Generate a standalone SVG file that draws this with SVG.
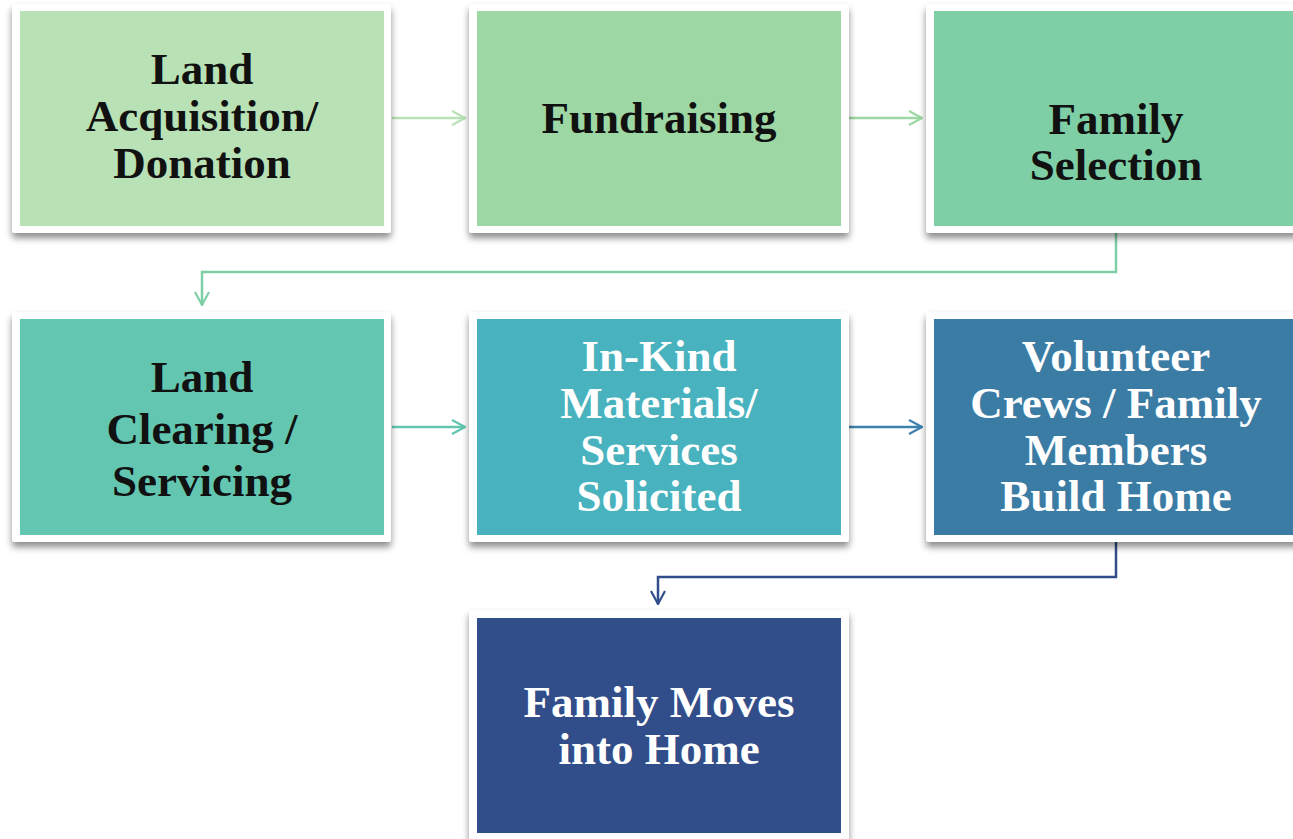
<svg xmlns="http://www.w3.org/2000/svg" width="1293" height="839" viewBox="0 0 1293 839">
<defs>
<filter id="sh" x="-10%" y="-10%" width="120%" height="125%">
<feDropShadow dx="0" dy="5" stdDeviation="3.5" flood-color="#000" flood-opacity="0.45"/>
</filter>
<marker id="a1" viewBox="0 0 16 16" refX="15" refY="8" markerWidth="16" markerHeight="16" markerUnits="userSpaceOnUse" orient="auto"><path d="M2,1 L15,8 L2,15" fill="none" stroke="#b8e2b5" stroke-width="2.2"/></marker>
<marker id="a2" viewBox="0 0 16 16" refX="15" refY="8" markerWidth="16" markerHeight="16" markerUnits="userSpaceOnUse" orient="auto"><path d="M2,1 L15,8 L2,15" fill="none" stroke="#9dd8a4" stroke-width="2.2"/></marker>
<marker id="a3" viewBox="0 0 16 16" refX="15" refY="8" markerWidth="16" markerHeight="16" markerUnits="userSpaceOnUse" orient="auto"><path d="M2,1 L15,8 L2,15" fill="none" stroke="#7ecfa6" stroke-width="2.2"/></marker>
<marker id="a4" viewBox="0 0 16 16" refX="15" refY="8" markerWidth="16" markerHeight="16" markerUnits="userSpaceOnUse" orient="auto"><path d="M2,1 L15,8 L2,15" fill="none" stroke="#62c6b0" stroke-width="2.2"/></marker>
<marker id="a5" viewBox="0 0 16 16" refX="15" refY="8" markerWidth="16" markerHeight="16" markerUnits="userSpaceOnUse" orient="auto"><path d="M2,1 L15,8 L2,15" fill="none" stroke="#3d82ad" stroke-width="2.2"/></marker>
<marker id="a6" viewBox="0 0 16 16" refX="15" refY="8" markerWidth="16" markerHeight="16" markerUnits="userSpaceOnUse" orient="auto"><path d="M2,1 L15,8 L2,15" fill="none" stroke="#314e8a" stroke-width="2.2"/></marker>
</defs>
<style>
.frame{fill:#ffffff;filter:url(#sh)}
.t{font-family:"Liberation Serif","Times New Roman",serif;font-weight:bold;font-size:45px;text-anchor:middle}
.dk{fill:#111111}
.lt{fill:#ffffff}
.c{fill:none;stroke-width:2.5}
</style>
<rect width="1293" height="839" fill="#ffffff"/>
<g id="connectors">
<path class="c" d="M392,118 H465" stroke="#b8e2b5" marker-end="url(#a1)"/>
<path class="c" d="M849,118 H922" stroke="#9dd8a4" marker-end="url(#a2)"/>
<path class="c" d="M1116,233 V272 H202 V305" stroke="#7ecfa6" marker-end="url(#a3)"/>
<path class="c" d="M392,427 H465" stroke="#62c6b0" marker-end="url(#a4)"/>
<path class="c" d="M849,427 H922" stroke="#3d82ad" marker-end="url(#a5)"/>
<path class="c" d="M1116,542 V577 H658 V604" stroke="#314e8a" marker-end="url(#a6)"/>
</g>
<g id="n1">
<rect class="frame" x="12" y="4" width="379" height="229" rx="3"/>
<rect x="20" y="11" width="364" height="215" fill="#b8e2b5"/>
<text class="t dk" x="202"><tspan x="202" y="84">Land</tspan><tspan x="202" y="131">Acquisition/</tspan><tspan x="202" y="178">Donation</tspan></text>
</g>
<g id="n2">
<rect class="frame" x="469" y="4" width="380" height="229" rx="3"/>
<rect x="477" y="11" width="364" height="215" fill="#9dd8a4"/>
<text class="t dk" x="659" y="133">Fundraising</text>
</g>
<g id="n3">
<rect class="frame" x="926" y="4" width="380" height="229" rx="3"/>
<rect x="934" y="11" width="364" height="215" fill="#7ecfa6"/>
<text class="t dk"><tspan x="1116" y="134">Family</tspan><tspan x="1116" y="180">Selection</tspan></text>
</g>
<g id="n4">
<rect class="frame" x="12" y="312" width="379" height="230" rx="3"/>
<rect x="20" y="319" width="364" height="216" fill="#62c6b0"/>
<text class="t dk"><tspan x="202" y="392">Land</tspan><tspan x="202" y="444">Clearing /</tspan><tspan x="202" y="496">Servicing</tspan></text>
</g>
<g id="n5">
<rect class="frame" x="469" y="312" width="380" height="230" rx="3"/>
<rect x="477" y="319" width="364" height="216" fill="#48b2be"/>
<text class="t lt"><tspan x="659" y="371">In-Kind</tspan><tspan x="659" y="418">Materials/</tspan><tspan x="659" y="465">Services</tspan><tspan x="659" y="511">Solicited</tspan></text>
</g>
<g id="n6">
<rect class="frame" x="926" y="312" width="380" height="230" rx="3"/>
<rect x="934" y="319" width="364" height="216" fill="#3b7ca5"/>
<text class="t lt"><tspan x="1116" y="371">Volunteer</tspan><tspan x="1116" y="418">Crews / Family</tspan><tspan x="1116" y="465">Members</tspan><tspan x="1116" y="511">Build Home</tspan></text>
</g>
<g id="n7">
<rect class="frame" x="469" y="610" width="380" height="236" rx="3"/>
<rect x="477" y="618" width="364" height="215" fill="#314e8a"/>
<text class="t lt"><tspan x="659" y="717">Family Moves</tspan><tspan x="659" y="764">into Home</tspan></text>
</g>
</svg>
